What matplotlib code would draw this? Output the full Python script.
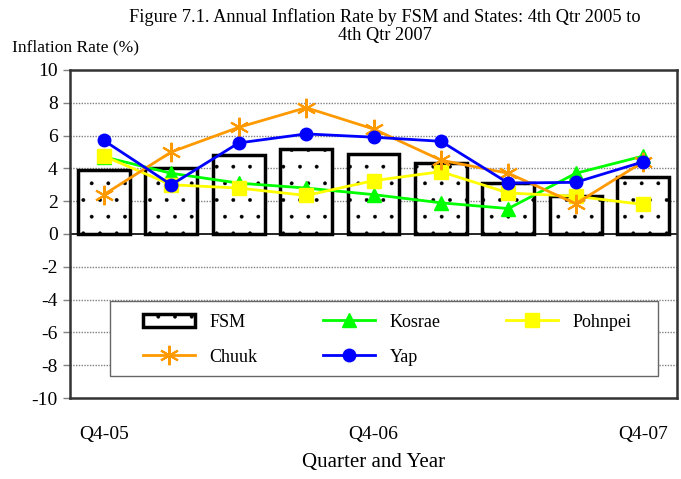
import matplotlib
matplotlib.use("Agg")
import matplotlib.pyplot as plt
from matplotlib.patches import Rectangle
import numpy as np

quarters = ["Q4-05", "Q1-06", "Q2-06", "Q3-06", "Q4-06", "Q1-07", "Q2-07", "Q3-07", "Q4-07"]
tick_labels = ["Q4-05", "", "", "", "Q4-06", "", "", "", "Q4-07"]
fsm = [3.9, 4.0, 4.8, 5.2, 4.9, 4.3, 3.1, 2.3, 3.5]
kosrae = [4.7, 3.7, 3.1, 2.8, 2.4, 1.9, 1.55, 3.7, 4.75]
pohnpei = [4.75, 3.0, 2.8, 2.35, 3.25, 3.8, 2.5, 2.3, 1.8]
chuuk = [2.4, 5.0, 6.5, 7.7, 6.4, 4.5, 3.7, 1.85, 4.4]
yap = [5.7, 3.0, 5.55, 6.1, 5.9, 5.65, 3.1, 3.15, 4.4]

plt.rcParams['font.family'] = ['Liberation Serif', 'DejaVu Serif']
plt.rcParams['hatch.linewidth'] = 0.3

fig = plt.figure(figsize=(6.81, 4.79), dpi=100)
ax = fig.add_axes([0.103, 0.169, 0.891, 0.685])

x = np.arange(len(quarters))
h_fsm = ax.bar(x, fsm, width=0.77, color='white', edgecolor='black', linewidth=2.5,
               hatch='.', label='FSM', zorder=2)
h_kos, = ax.plot(x, kosrae, color='#00FF00', lw=2, marker='^', ms=10, label='Kosrae', zorder=3)
h_poh, = ax.plot(x, pohnpei, color='#FFFF00', lw=2, marker='s', ms=10, label='Pohnpei', zorder=3)
h_chu, = ax.plot(x, chuuk, color='#FF9900', lw=2, marker=(6, 2, 0), ms=14, mew=1.5, label='Chuuk', zorder=3)
h_yap, = ax.plot(x, yap, color='#0000FF', lw=2, marker='o', ms=9, label='Yap', zorder=4)

ax.axhline(0, color='black', lw=1.2, zorder=1.5)
ax.set_xlim(-0.5, len(quarters) - 0.5)
ax.set_ylim(-10, 10)
ax.set_yticks(np.arange(-10, 11, 2))
ax.set_yticklabels([str(v) for v in range(-10, 11, 2)], fontsize=14)
for v in range(-8, 10, 2):
    if v != 0:
        ax.axhline(v, color='#808080', lw=1, ls=(0, (1, 1)), zorder=0)
ax.tick_params(axis='y', length=5, width=1, color='#808080', pad=4)
ax.set_xticks(x)
ax.set_xticklabels(tick_labels, fontsize=14)
ax.tick_params(axis='x', length=0, pad=20)
for s in ax.spines.values():
    s.set_color('#333333')
    s.set_linewidth(1.8)

ax.set_xlabel('Quarter and Year', fontsize=15, labelpad=7)
fig.text(0.565, 0.983, 'Figure 7.1. Annual Inflation Rate by FSM and States: 4th Qtr 2005 to\n4th Qtr 2007',
         ha='center', va='top', fontsize=13.2, linespacing=1.1)
fig.text(0.017, 0.902, 'Inflation Rate (%)', ha='left', va='center', fontsize=12.5)

# legend frame (white box)
ax.add_patch(Rectangle((0.066, 0.067), 0.903, 0.229, transform=ax.transAxes,
                       facecolor='white', edgecolor='#666666', lw=1.0, zorder=4.5))

handles = [h_fsm, h_chu, h_kos, h_yap, h_poh]
labels = ['FSM', 'Chuuk', 'Kosrae', 'Yap', 'Pohnpei']
leg = ax.legend(handles, labels, loc='center', bbox_to_anchor=(0.0956, 0.0635, 0.853, 0.229),
                mode='expand', ncol=3, fontsize=13, frameon=False,
                handlelength=2.9, borderpad=0.8, labelspacing=1.0,
                borderaxespad=0)
leg.set_zorder(5)

fig.savefig('out.png', dpi=100)
